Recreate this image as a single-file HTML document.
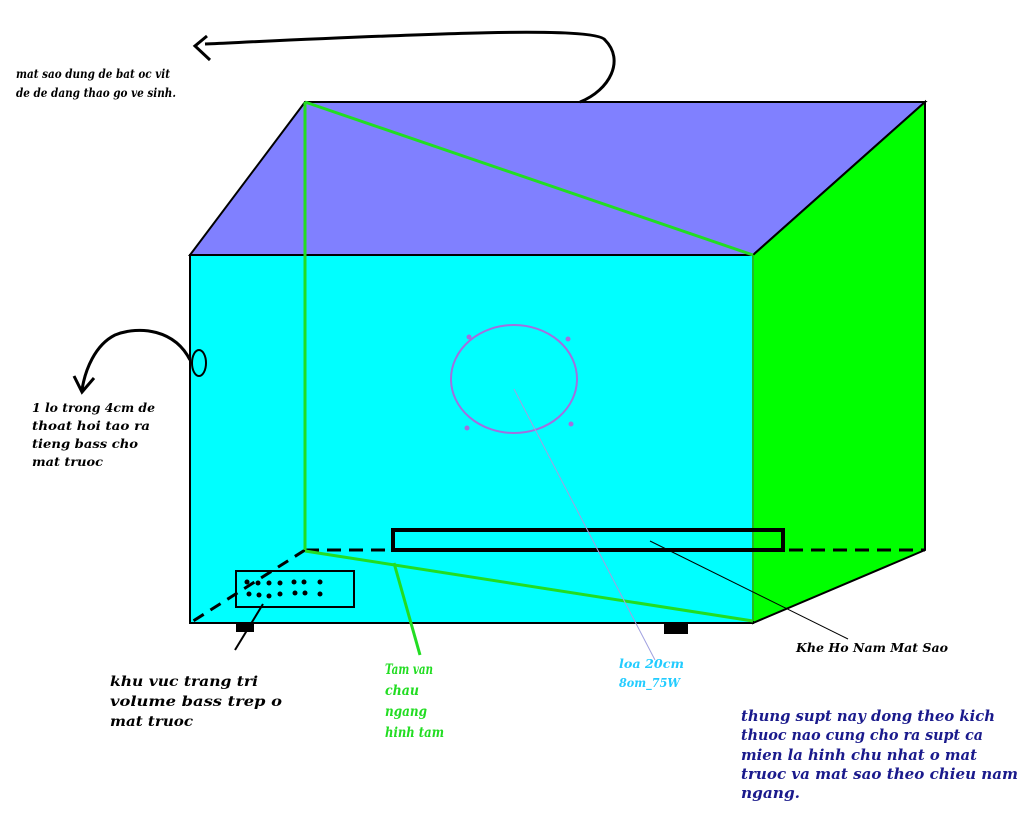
<!DOCTYPE html>
<html><head><meta charset="utf-8"><style>
body{margin:0;background:#fff;width:1024px;height:819px;overflow:hidden}
svg text{font-family:"DejaVu Serif","Liberation Serif",serif;font-weight:bold;font-style:italic}
</style></head><body>
<svg width="1024" height="819" xmlns="http://www.w3.org/2000/svg">
<polygon points="305,102 925,102 753,255 190,255" fill="#8080ff" stroke="#000" stroke-width="2"/>
<polygon points="753,255 925,102 925,550 753,623" fill="#00ff00" stroke="#000" stroke-width="2"/>
<rect x="190" y="255" width="563" height="368" fill="#00ffff" stroke="#000" stroke-width="2"/>
<rect x="236" y="623" width="18" height="9" fill="#000"/>
<rect x="664" y="623" width="24" height="11" fill="#000"/>
<line x1="305" y1="550" x2="925" y2="550" stroke="#000" stroke-width="3" stroke-dasharray="14,8"/>
<line x1="305" y1="550" x2="190" y2="623" stroke="#000" stroke-width="3" stroke-dasharray="12,8"/>
<line x1="305" y1="102" x2="305" y2="550" stroke="#22dd22" stroke-width="3"/>
<line x1="305" y1="102" x2="753" y2="255" stroke="#22dd22" stroke-width="3"/>
<line x1="305" y1="551" x2="753" y2="621" stroke="#22dd22" stroke-width="3"/>
<line x1="753" y1="255" x2="753" y2="621" stroke="#22bb22" stroke-width="2"/>
<rect x="393" y="530" width="390" height="20" fill="none" stroke="#000" stroke-width="4"/>
<ellipse cx="514" cy="379" rx="63" ry="54" fill="none" stroke="#a070e0" stroke-width="2"/>
<circle cx="469" cy="337" r="2.5" fill="#a070e0"/><circle cx="568" cy="339" r="2.5" fill="#a070e0"/>
<circle cx="467" cy="428" r="2.5" fill="#a070e0"/><circle cx="571" cy="424" r="2.5" fill="#a070e0"/>
<line x1="514" y1="389" x2="655" y2="660" stroke="#a0a0e0" stroke-width="1"/>
<line x1="650" y1="541" x2="848" y2="639" stroke="#000" stroke-width="1"/>
<rect x="236" y="571" width="118" height="36" fill="none" stroke="#000" stroke-width="2"/>
<g fill="#000">
<circle cx="247" cy="582" r="2.5"/><circle cx="258" cy="583" r="2.5"/><circle cx="269" cy="583" r="2.5"/><circle cx="280" cy="583" r="2.5"/><circle cx="294" cy="582" r="2.5"/><circle cx="304" cy="582" r="2.5"/><circle cx="320" cy="582" r="2.5"/>
<circle cx="249" cy="594" r="2.5"/><circle cx="259" cy="595" r="2.5"/><circle cx="269" cy="596" r="2.5"/><circle cx="280" cy="594" r="2.5"/><circle cx="295" cy="593" r="2.5"/><circle cx="305" cy="593" r="2.5"/><circle cx="320" cy="594" r="2.5"/>
</g>
<line x1="263" y1="604" x2="235" y2="650" stroke="#000" stroke-width="2"/>
<line x1="394" y1="563" x2="420" y2="655" stroke="#22dd22" stroke-width="3"/>
<path d="M580,102 C610,90 625,60 605,40 C595,25 400,35 205,44" fill="none" stroke="#000" stroke-width="3"/>
<path d="M207,36 L195,46 L210,60" fill="none" stroke="#000" stroke-width="3"/>
<path d="M190,360 C175,330 140,325 115,335 C95,345 85,370 82,390" fill="none" stroke="#000" stroke-width="3"/>
<path d="M74,376 L82,392 L94,378" fill="none" stroke="#000" stroke-width="3"/>
<ellipse cx="199" cy="363" rx="7" ry="13" fill="none" stroke="#000" stroke-width="2"/>
<g font-size="12" fill="#000" lengthAdjust="spacingAndGlyphs">
<text x="16" y="78" textLength="154" lengthAdjust="spacingAndGlyphs">mat sao dung de bat oc vit</text>
<text x="16" y="97" textLength="160" lengthAdjust="spacingAndGlyphs">de de dang thao go ve sinh.</text>
<text x="32" y="412" textLength="123" lengthAdjust="spacingAndGlyphs">1 lo trong 4cm de</text>
<text x="32" y="430" textLength="118" lengthAdjust="spacingAndGlyphs">thoat hoi tao ra</text>
<text x="32" y="448" textLength="106" lengthAdjust="spacingAndGlyphs">tieng bass cho</text>
<text x="32" y="466" textLength="71" lengthAdjust="spacingAndGlyphs">mat truoc</text>
<text x="796" y="652" textLength="152" lengthAdjust="spacingAndGlyphs">Khe Ho Nam Mat Sao</text>
</g>
<g font-size="14" fill="#000">
<text x="110" y="686" textLength="148" lengthAdjust="spacingAndGlyphs">khu vuc trang tri</text>
<text x="110" y="706" textLength="172" lengthAdjust="spacingAndGlyphs">volume bass trep o</text>
<text x="110" y="726" textLength="83" lengthAdjust="spacingAndGlyphs">mat truoc</text>
</g>
<g font-size="14" fill="#22dd22">
<text x="385" y="674" textLength="48" lengthAdjust="spacingAndGlyphs">Tam van</text>
<text x="385" y="695" textLength="34" lengthAdjust="spacingAndGlyphs">chau</text>
<text x="385" y="716" textLength="42" lengthAdjust="spacingAndGlyphs">ngang</text>
<text x="385" y="737" textLength="59" lengthAdjust="spacingAndGlyphs">hinh tam</text>
</g>
<g font-size="12.5" fill="#22ccff">
<text x="619" y="668" textLength="65" lengthAdjust="spacingAndGlyphs">loa 20cm</text>
<text x="619" y="687" textLength="61" lengthAdjust="spacingAndGlyphs">8om_75W</text>
</g>
<g font-size="15" fill="#1a1a8c">
<text x="741" y="721" textLength="254" lengthAdjust="spacingAndGlyphs">thung supt nay dong theo kich</text>
<text x="741" y="740" textLength="242" lengthAdjust="spacingAndGlyphs">thuoc nao cung cho ra supt ca</text>
<text x="741" y="760" textLength="236" lengthAdjust="spacingAndGlyphs">mien la hinh chu nhat o mat</text>
<text x="741" y="779" textLength="277" lengthAdjust="spacingAndGlyphs">truoc va mat sao theo chieu nam</text>
<text x="741" y="798" textLength="59" lengthAdjust="spacingAndGlyphs">ngang.</text>
</g>
</svg>
</body></html>
